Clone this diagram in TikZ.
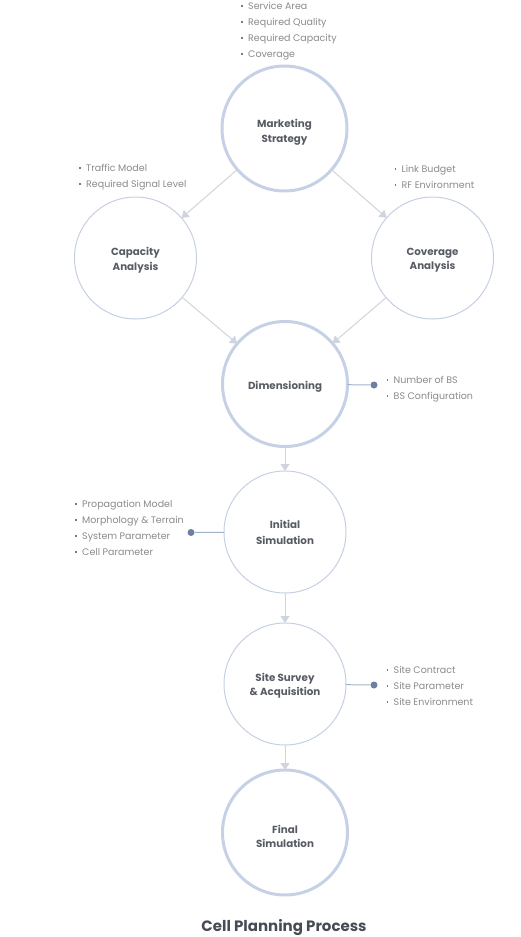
\documentclass[tikz,border=0pt]{standalone}
\usepackage{fontspec}
\setmainfont{Poppins}
\usetikzlibrary{arrows.meta}
\definecolor{ringc}{HTML}{C6D1E5}
\definecolor{ringt}{HTML}{C4CFE3}
\definecolor{labc}{HTML}{575B64}
\definecolor{itemc}{HTML}{8A8A8A}
\definecolor{bulc}{HTML}{7A7A7A}
\definecolor{arrc}{HTML}{D0D4DC}
\definecolor{dotc}{HTML}{6C80A4}
\definecolor{dotl}{HTML}{A3B2CC}
\definecolor{titc}{HTML}{474B55}
\begin{document}
\begin{tikzpicture}[x=1pt,y=-1pt,
  ring/.style={circle, draw=ringc, inner sep=0pt, outer sep=0pt},
  bigring/.style={ring, line width=3pt, minimum size=125pt},
  thinring/.style={ring, draw=ringt, line width=1pt, minimum size=122pt},
  lab/.style={align=center, inner sep=0pt, text=labc,
    font=\fontsize{10.3}{14.5}\selectfont\bfseries},
  item/.style={anchor=base west, inner sep=0pt, text=itemc,
    font=\fontsize{9.5}{12}\selectfont,
    execute at begin node={\makebox[7pt][l]{\textcolor{bulc}{\raisebox{2.4pt}{\rule{1.7pt}{1.7pt}}}}}},
  flow/.style={draw=arrc, line width=1pt, -{Triangle[width=9pt,length=7pt]}},
  knob/.style={circle, fill=dotc, inner sep=0pt, minimum size=7pt},
  tie/.style={draw=dotl, line width=1pt}
]
\useasboundingbox (0,0) rectangle (520,937);

% circles
\node[bigring, label={[lab, yshift=-4pt]center:Marketing\\Strategy}]  (ms)  at (284.5,128.5) {};
\node[thinring, label={[lab, yshift=-2pt]center:Capacity\\Analysis}] (ca)  at (135.5,258)   {};
\node[thinring, label={[lab, yshift=-2pt]center:Coverage\\Analysis}] (co)  at (432.5,258)   {};
\node[bigring, label={[lab, yshift=-2.5pt]center:Dimensioning}]       (dim) at (285,384)     {};
\node[thinring, label={[lab, yshift=-0.5pt, font=\fontsize{10.3}{16}\selectfont\bfseries]center:Initial\\Simulation}] (ini) at (285,532) {};
\node[thinring, label={[lab, yshift=-1.5pt]center:Site Survey\\\& Acquisition}] (ss) at (285,684) {};
\node[bigring, label={[lab, yshift=-4pt]center:Final\\Simulation}]   (fin) at (285,832.5)   {};

% flow arrows
\draw[flow] (ms) -- (ca);
\draw[flow] (ms) -- (co);
\draw[flow] (ca) -- (dim);
\draw[flow] (co) -- (dim);
\draw[flow] (dim) -- (ini);
\draw[flow] (ini) -- (ss);
\draw[flow] (ss) -- (fin);

% knobs
\node[knob] (kdim) at (374,385) {};
\node[knob] (kini) at (191,532.5) {};
\node[knob] (kss)  at (374,685) {};
\draw[tie] (dim) -- (kdim);
\draw[tie] (ini) -- (kini);
\draw[tie] (ss) -- (kss);

% bullet lists
\foreach \t [count=\i] in {Service Area, Required Quality, Required Capacity, Coverage}
  \node[item] (lms\i) at (241, {9.5+16*(\i-1)}) {\t};
\foreach \t [count=\i] in {Traffic Model, Required Signal Level}
  \node[item] (lca\i) at (79, {171+16*(\i-1)}) {\t};
\foreach \t [count=\i] in {Link Budget, RF Environment}
  \node[item] (lco\i) at (394.5, {172+16*(\i-1)}) {\t};
\foreach \t [count=\i] in {Number of BS, BS Configuration}
  \node[item] (ldim\i) at (386.5, {383.3+16*(\i-1)}) {\t};
\foreach \t [count=\i] in {Propagation Model, Morphology \& Terrain, System Parameter, Cell Parameter}
  \node[item] (lini\i) at (75, {507+16*(\i-1)}) {\t};
\foreach \t [count=\i] in {Site Contract, Site Parameter, Site Environment}
  \node[item] (lss\i) at (386.5, {673.3+16*(\i-1)}) {\t};

% title
\node[anchor=base, inner sep=0pt, text=titc, font=\fontsize{15}{16}\selectfont\bfseries]
  (title) at (284,931.5) {Cell Planning Process};
\end{tikzpicture}
\end{document}
